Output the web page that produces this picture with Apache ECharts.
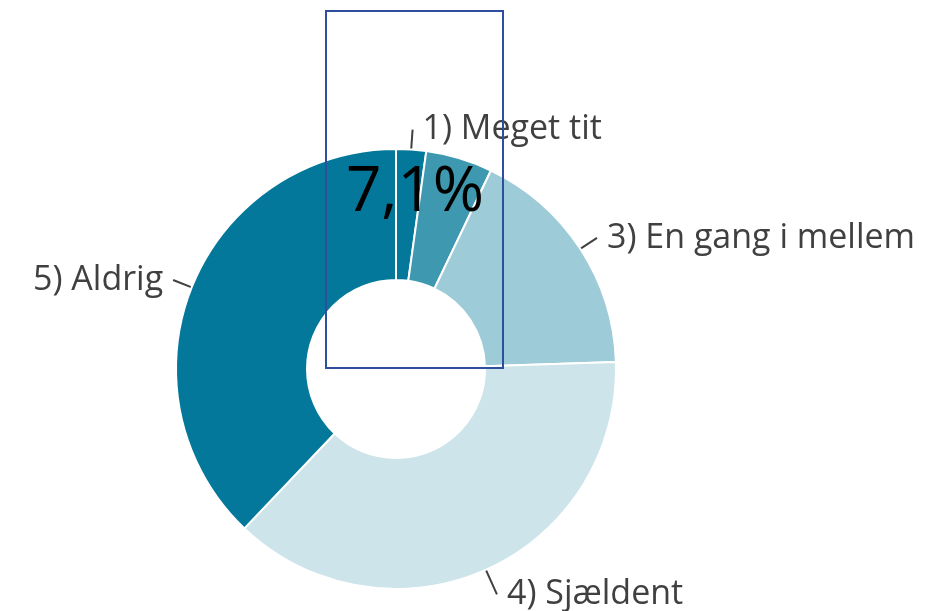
<!DOCTYPE html>
<html>
<head>
<meta charset="utf-8">
<script src="https://cdn.jsdelivr.net/npm/echarts@6/dist/echarts.min.js"></script>
<style>
  html, body { margin: 0; padding: 0; background: #ffffff; }
  #chart { width: 946px; height: 611px; }
</style>
</head>
<body>
<div id="chart"></div>
<script>
// andele i procent, læst af figuren
const categories = ["1) Meget tit", "2) Tit", "3) En gang i mellem", "4) Sjældent", "5) Aldrig"];
const values = [2.2, 4.9, 17.4, 37.6, 37.9];
const colors = ["#03789a", "#3d98b0", "#9dcbd8", "#cde4eb", "#03789a"];
const hiddenLabels = ["2) Tit"];

const chart = echarts.init(document.getElementById("chart"));

// markeret andel = de to første kategorier
const markedShare = (values[0] + values[1]).toFixed(1).replace(".", ",") + "%";

// lidt længere streg til nederste etiket
const lineLength = (name) => (name === "4) Sjældent" ? 27 : 20);

const option = {
  backgroundColor: "#ffffff",
  animation: false,
  series: [
    {
      type: "pie",
      center: [396, 369],
      radius: [89, 220],
      startAngle: 90,
      clockwise: true,
      avoidLabelOverlap: false,
      itemStyle: { borderColor: "#ffffff", borderWidth: 2 },
      label: {
        show: true,
        position: "outside",
        color: "#404040",
        fontFamily: "Open Sans",
        fontSize: 34,
        distanceToLabelLine: 10
      },
      labelLine: {
        show: true,
        length: 20,
        length2: 0,
        smooth: false,
        lineStyle: { color: "#404040", width: 2 }
      },
      emphasis: { disabled: true },
      data: categories.map((name, i) => ({
        name: name,
        value: values[i],
        itemStyle: { color: colors[i] },
        label: { show: hiddenLabels.indexOf(name) < 0 },
        labelLine: { show: hiddenLabels.indexOf(name) < 0, length: lineLength(name) }
      }))
    }
  ],
  graphic: [
    {
      type: "rect",
      z: 100,
      shape: { x: 326, y: 11, width: 177, height: 357 },
      style: { fill: "none", stroke: "#2f4f9e", lineWidth: 2 }
    },
    {
      type: "text",
      z: 101,
      x: 415,
      y: 193,
      style: {
        text: markedShare,
        fill: "#000000",
        fontFamily: "Open Sans",
        fontSize: 62,
        align: "center",
        verticalAlign: "middle"
      }
    }
  ]
};

chart.setOption(option);
</script>
</body>
</html>
